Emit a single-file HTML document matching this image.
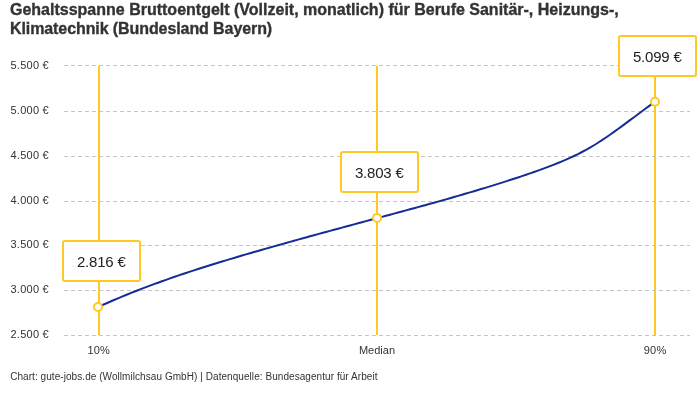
<!DOCTYPE html>
<html><head><meta charset="utf-8"><title>Chart</title>
<style>
html,body{margin:0;padding:0;background:#fff;}
body{width:700px;height:400px;overflow:hidden;position:relative;font-family:"Liberation Sans",sans-serif;color:#333;}
svg{position:absolute;left:0;top:0;will-change:transform;}
.g{stroke:#c4c4c4;stroke-width:1;stroke-dasharray:4 3;shape-rendering:crispEdges}
.yl{font-size:11px;fill:#333;letter-spacing:0.25px}
.xl{font-size:11px;fill:#333;text-anchor:middle;letter-spacing:0.2px}
.v{stroke:#ffc822;stroke-width:2;shape-rendering:crispEdges}
.c{stroke:#ffc822;stroke-width:2;fill:#fff;}
.b{stroke:#ffc822;stroke-width:2;fill:#fff;}
.bl{font-size:15px;fill:#222;text-anchor:middle;letter-spacing:-0.2px}
.t1{font-size:16px;font-weight:bold;fill:#333;letter-spacing:0px;stroke:#333;stroke-width:0.35px}
.t2{font-size:16px;font-weight:bold;fill:#333;letter-spacing:-0.09px;stroke:#333;stroke-width:0.35px}
.ft{font-size:10px;fill:#333;letter-spacing:0.06px}
</style></head><body>
<svg width="700" height="400" viewBox="0 0 700 400" font-family="Liberation Sans, sans-serif">
<line x1="99" x2="99" y1="66" y2="335" class="v"/>
<line x1="377" x2="377" y1="66" y2="335" class="v"/>
<line x1="655" x2="655" y1="66" y2="335" class="v"/>
<line x1="64" x2="690" y1="65.5" y2="65.5" class="g"/>
<text x="10.5" y="68.8" class="yl">5.500 €</text>
<line x1="64" x2="690" y1="111.5" y2="111.5" class="g"/>
<text x="10.5" y="113.8" class="yl">5.000 €</text>
<line x1="64" x2="690" y1="156.5" y2="156.5" class="g"/>
<text x="10.5" y="158.8" class="yl">4.500 €</text>
<line x1="64" x2="690" y1="201.5" y2="201.5" class="g"/>
<text x="10.5" y="203.8" class="yl">4.000 €</text>
<line x1="64" x2="690" y1="245.5" y2="245.5" class="g"/>
<text x="10.5" y="247.8" class="yl">3.500 €</text>
<line x1="64" x2="690" y1="290.5" y2="290.5" class="g"/>
<text x="10.5" y="292.8" class="yl">3.000 €</text>
<line x1="64" x2="690" y1="335.5" y2="335.5" class="g"/>
<text x="10.5" y="337.8" class="yl">2.500 €</text>

<path d="M98,307.06 L102,305.26 L106,303.48 L110,301.73 L114,300.01 L118,298.31 L122,296.64 L126,295.00 L130,293.38 L134,291.79 L138,290.22 L142,288.67 L146,287.14 L150,285.64 L154,284.15 L158,282.69 L162,281.25 L166,279.82 L170,278.42 L174,277.03 L178,275.66 L182,274.31 L186,272.97 L190,271.65 L194,270.34 L198,269.05 L202,267.77 L206,266.50 L210,265.25 L214,264.00 L218,262.77 L222,261.55 L226,260.34 L230,259.14 L234,257.94 L238,256.76 L242,255.58 L246,254.40 L250,253.24 L254,252.08 L258,250.92 L262,249.77 L266,248.63 L270,247.49 L274,246.35 L278,245.22 L282,244.09 L286,242.97 L290,241.85 L294,240.74 L298,239.63 L302,238.52 L306,237.42 L310,236.32 L314,235.22 L318,234.12 L322,233.03 L326,231.94 L330,230.85 L334,229.77 L338,228.69 L342,227.60 L346,226.52 L350,225.44 L354,224.37 L358,223.29 L362,222.22 L366,221.14 L370,220.07 L374,218.99 L378,217.92 L382,216.85 L386,215.77 L390,214.70 L394,213.62 L398,212.54 L402,211.46 L406,210.38 L410,209.30 L414,208.21 L418,207.12 L422,206.02 L426,204.92 L430,203.82 L434,202.70 L438,201.59 L442,200.47 L446,199.34 L450,198.20 L454,197.06 L458,195.91 L462,194.75 L466,193.58 L470,192.41 L474,191.22 L478,190.03 L482,188.82 L486,187.61 L490,186.38 L494,185.14 L498,183.89 L502,182.63 L506,181.36 L510,180.07 L514,178.77 L518,177.45 L522,176.12 L526,174.78 L530,173.41 L534,172.02 L538,170.60 L542,169.15 L546,167.66 L550,166.14 L554,164.57 L558,162.97 L562,161.31 L566,159.60 L570,157.82 L574,155.97 L578,154.04 L582,152.01 L586,149.87 L590,147.62 L594,145.25 L598,142.76 L602,140.17 L606,137.49 L610,134.72 L614,131.89 L618,129.00 L622,126.07 L626,123.12 L630,120.15 L634,117.19 L638,114.23 L642,111.27 L646,108.31 L650,105.33 L654,102.35 L655,101.60" fill="none" stroke="#172b96" stroke-width="2" stroke-linejoin="round"/>
<circle cx="98" cy="307" r="4" class="c"/>
<circle cx="377" cy="217.9" r="4" class="c"/>
<circle cx="655" cy="101.7" r="4" class="c"/>
<rect x="63" y="241" width="77" height="40" rx="2" class="b"/>
<text x="101.3" y="266.7" class="bl">2.816 €</text>
<rect x="341" y="152" width="77" height="40" rx="2" class="b"/>
<text x="379.3" y="177.7" class="bl">3.803 €</text>
<rect x="619" y="36" width="77" height="40" rx="2" class="b"/>
<text x="657.3" y="61.7" class="bl">5.099 €</text>
<text x="10" y="14.5" class="t1">Gehaltsspanne Bruttoentgelt (Vollzeit, monatlich) für Berufe Sanitär-, Heizungs-,</text>
<text x="10" y="33.7" class="t2">Klimatechnik (Bundesland Bayern)</text>
<text x="98.8" y="354" class="xl">10%</text>
<text x="377" y="354" class="xl" style="letter-spacing:0">Median</text>
<text x="655.1" y="354" class="xl">90%</text>
<text x="10.2" y="380.4" class="ft">Chart: gute-jobs.de (Wollmilchsau GmbH) | Datenquelle: Bundesagentur für Arbeit</text>
</svg>
</body></html>
